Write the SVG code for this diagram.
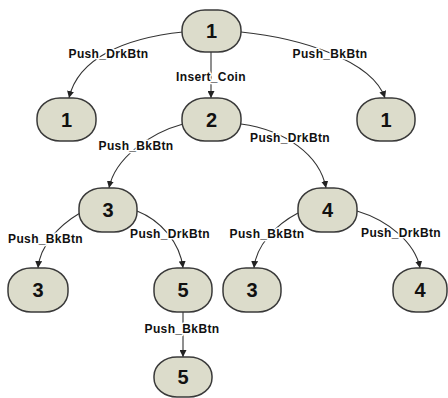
<svg xmlns="http://www.w3.org/2000/svg" width="448" height="398" viewBox="0 0 448 398">
<style>
.node rect{fill:#dcdccb;stroke:#3a3a3a;stroke-width:1.5}
.node text{font-family:"Liberation Sans",Arial,sans-serif;font-weight:bold;font-size:20px;fill:#111;text-anchor:middle}
.edge{fill:none;stroke:#333;stroke-width:1.1;marker-end:url(#arr)}
.lbl{font-family:"Liberation Sans",Arial,sans-serif;font-weight:bold;font-size:12px;letter-spacing:0.35px;fill:#111;text-anchor:middle;stroke:#fff;stroke-width:3;paint-order:stroke;stroke-linejoin:round}
</style>
<defs>
<marker id="arr" viewBox="0 0 10 10" refX="10" refY="5" markerWidth="7" markerHeight="7" markerUnits="userSpaceOnUse" orient="auto">
<path d="M0,0 L10,5 L0,10 Z" fill="#222"/>
</marker>
</defs>
<rect width="448" height="398" fill="#fff"/>
<g id="connectors">
<path class="edge" d="M183,32 C125,38 78,58 69,98"/>
<path class="edge" d="M211,52 L211,98"/>
<path class="edge" d="M241,32 C300,38 372,60 385,98"/>
<path class="edge" d="M183,124 C150,133 115,158 109,188"/>
<path class="edge" d="M241,124 C285,130 320,155 326,188"/>
<path class="edge" d="M80,213 C58,226 40,246 38,268"/>
<path class="edge" d="M137,211 C160,220 180,242 183,268"/>
<path class="edge" d="M298,213 C275,225 256,246 254,268"/>
<path class="edge" d="M357,211 C387,220 415,242 420,268"/>
<path class="edge" d="M183,312 L183,357"/>
<text class="lbl" x="108.5" y="58">Push_DrkBtn</text>
<text class="lbl" x="211" y="81">Insert_Coin</text>
<text class="lbl" x="330" y="58">Push_BkBtn</text>
<text class="lbl" x="136" y="150">Push_BkBtn</text>
<text class="lbl" x="290" y="142">Push_DrkBtn</text>
<text class="lbl" x="45.5" y="243">Push_BkBtn</text>
<text class="lbl" x="170" y="238">Push_DrkBtn</text>
<text class="lbl" x="267" y="238">Push_BkBtn</text>
<text class="lbl" x="401" y="237">Push_DrkBtn</text>
<text class="lbl" x="182" y="333">Push_BkBtn</text>
</g>
<g id="n_top" class="node"><rect x="182" y="10" width="59" height="42" rx="23" ry="20"/><text x="211.5" y="38">1</text></g>
<g id="n_l1" class="node"><rect x="37" y="98" width="59" height="43" rx="23" ry="20"/><text x="66.5" y="127">1</text></g>
<g id="n_2" class="node"><rect x="182" y="98" width="59" height="43" rx="23" ry="20"/><text x="211.5" y="127">2</text></g>
<g id="n_r1" class="node"><rect x="357" y="98" width="58" height="43" rx="23" ry="20"/><text x="386" y="127">1</text></g>
<g id="n_3" class="node"><rect x="79" y="188" width="58" height="44" rx="23" ry="20"/><text x="108" y="217">3</text></g>
<g id="n_4" class="node"><rect x="298" y="188" width="59" height="44" rx="23" ry="20"/><text x="327.5" y="217">4</text></g>
<g id="n_b3" class="node"><rect x="8" y="268" width="60" height="44" rx="23" ry="20"/><text x="38" y="297">3</text></g>
<g id="n_5" class="node"><rect x="154" y="268" width="58" height="44" rx="23" ry="20"/><text x="183" y="297">5</text></g>
<g id="n_b3b" class="node"><rect x="223" y="268" width="58" height="44" rx="23" ry="20"/><text x="252" y="297">3</text></g>
<g id="n_b4" class="node"><rect x="393" y="268" width="54" height="44" rx="23" ry="20"/><text x="420" y="297">4</text></g>
<g id="n_b5" class="node"><rect x="154" y="357" width="58" height="40" rx="23" ry="19"/><text x="183" y="384">5</text></g>
</svg>
